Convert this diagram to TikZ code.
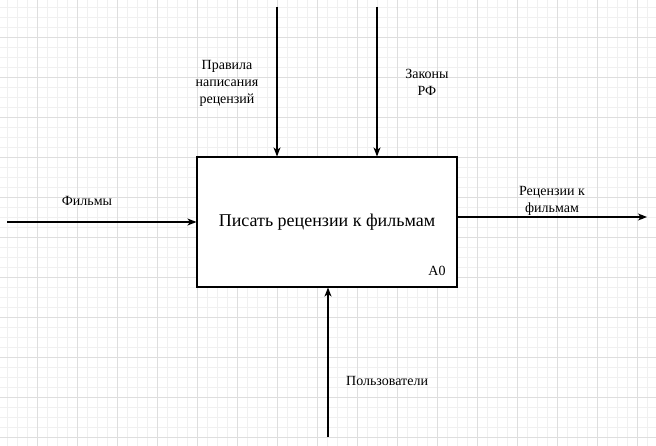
\documentclass[tikz,border=0pt]{standalone}
\usepackage{fontspec}
\setmainfont{Liberation Serif}
\usetikzlibrary{arrows.meta}
\begin{document}
\begin{tikzpicture}[x=1pt,y=-1pt,
  minorgrid/.style={draw=black!6,line width=0.8pt},
  majorgrid/.style={draw=black!13,line width=0.8pt},
  flow/.style={draw=black,line width=1.1pt,-{Stealth[length=9pt,width=7pt,inset=2.5pt]}},
  funcbox/.style={draw=black,line width=1.1pt,minimum width=260pt,minimum height=130pt,
    inner sep=0pt,font=\fontsize{18}{21}\selectfont},
  lbl/.style={font=\fontsize{14}{17}\selectfont,align=center,inner sep=0pt}]
% canvas and grid
\fill[white] (0,0) rectangle (656,446);
\useasboundingbox (0,0) rectangle (656,446);
\foreach \k in {0,...,65} {\draw[minorgrid] (7+10*\k,0) -- (7+10*\k,446);}
\foreach \k in {0,...,44} {\draw[minorgrid] (0,7+10*\k) -- (656,7+10*\k);}
\foreach \k in {0,...,16} {\draw[majorgrid] (37+40*\k,0) -- (37+40*\k,446);}
\foreach \k in {0,...,10} {\draw[majorgrid] (0,37+40*\k) -- (656,37+40*\k);}

% function block
\node[funcbox,fill=white] (A) at (327,222) {Писать рецензии к фильмам};
\node[lbl,anchor=center] (A0) at (437,271) {A0};

% arrow ends
\coordinate (c1) at (277,7);
\coordinate (c2) at (377,7);
\coordinate (in) at (7,222);
\coordinate (out) at (647,217);
\coordinate (mech) at (328,437);

\draw[flow] (c1) -- (c1 |- A.north);
\draw[flow] (c2) -- (c2 |- A.north);
\draw[flow] (in) -- (A.west);
\draw[flow] (A.east |- out) -- (out);
\draw[flow] (mech) -- (mech |- A.south);

% labels
\node[lbl] (l1) at (227,83) {Правила\\написания\\рецензий};
\node[lbl] (l2) at (427,82.5) {Законы\\РФ};
\node[lbl] (l3) at (87,201) {Фильмы};
\node[lbl] (l4) at (552,201) {Рецензии к\\фильмам};
\node[lbl,anchor=west] (l5) at (346,381) {Пользователи};
\end{tikzpicture}
\end{document}
